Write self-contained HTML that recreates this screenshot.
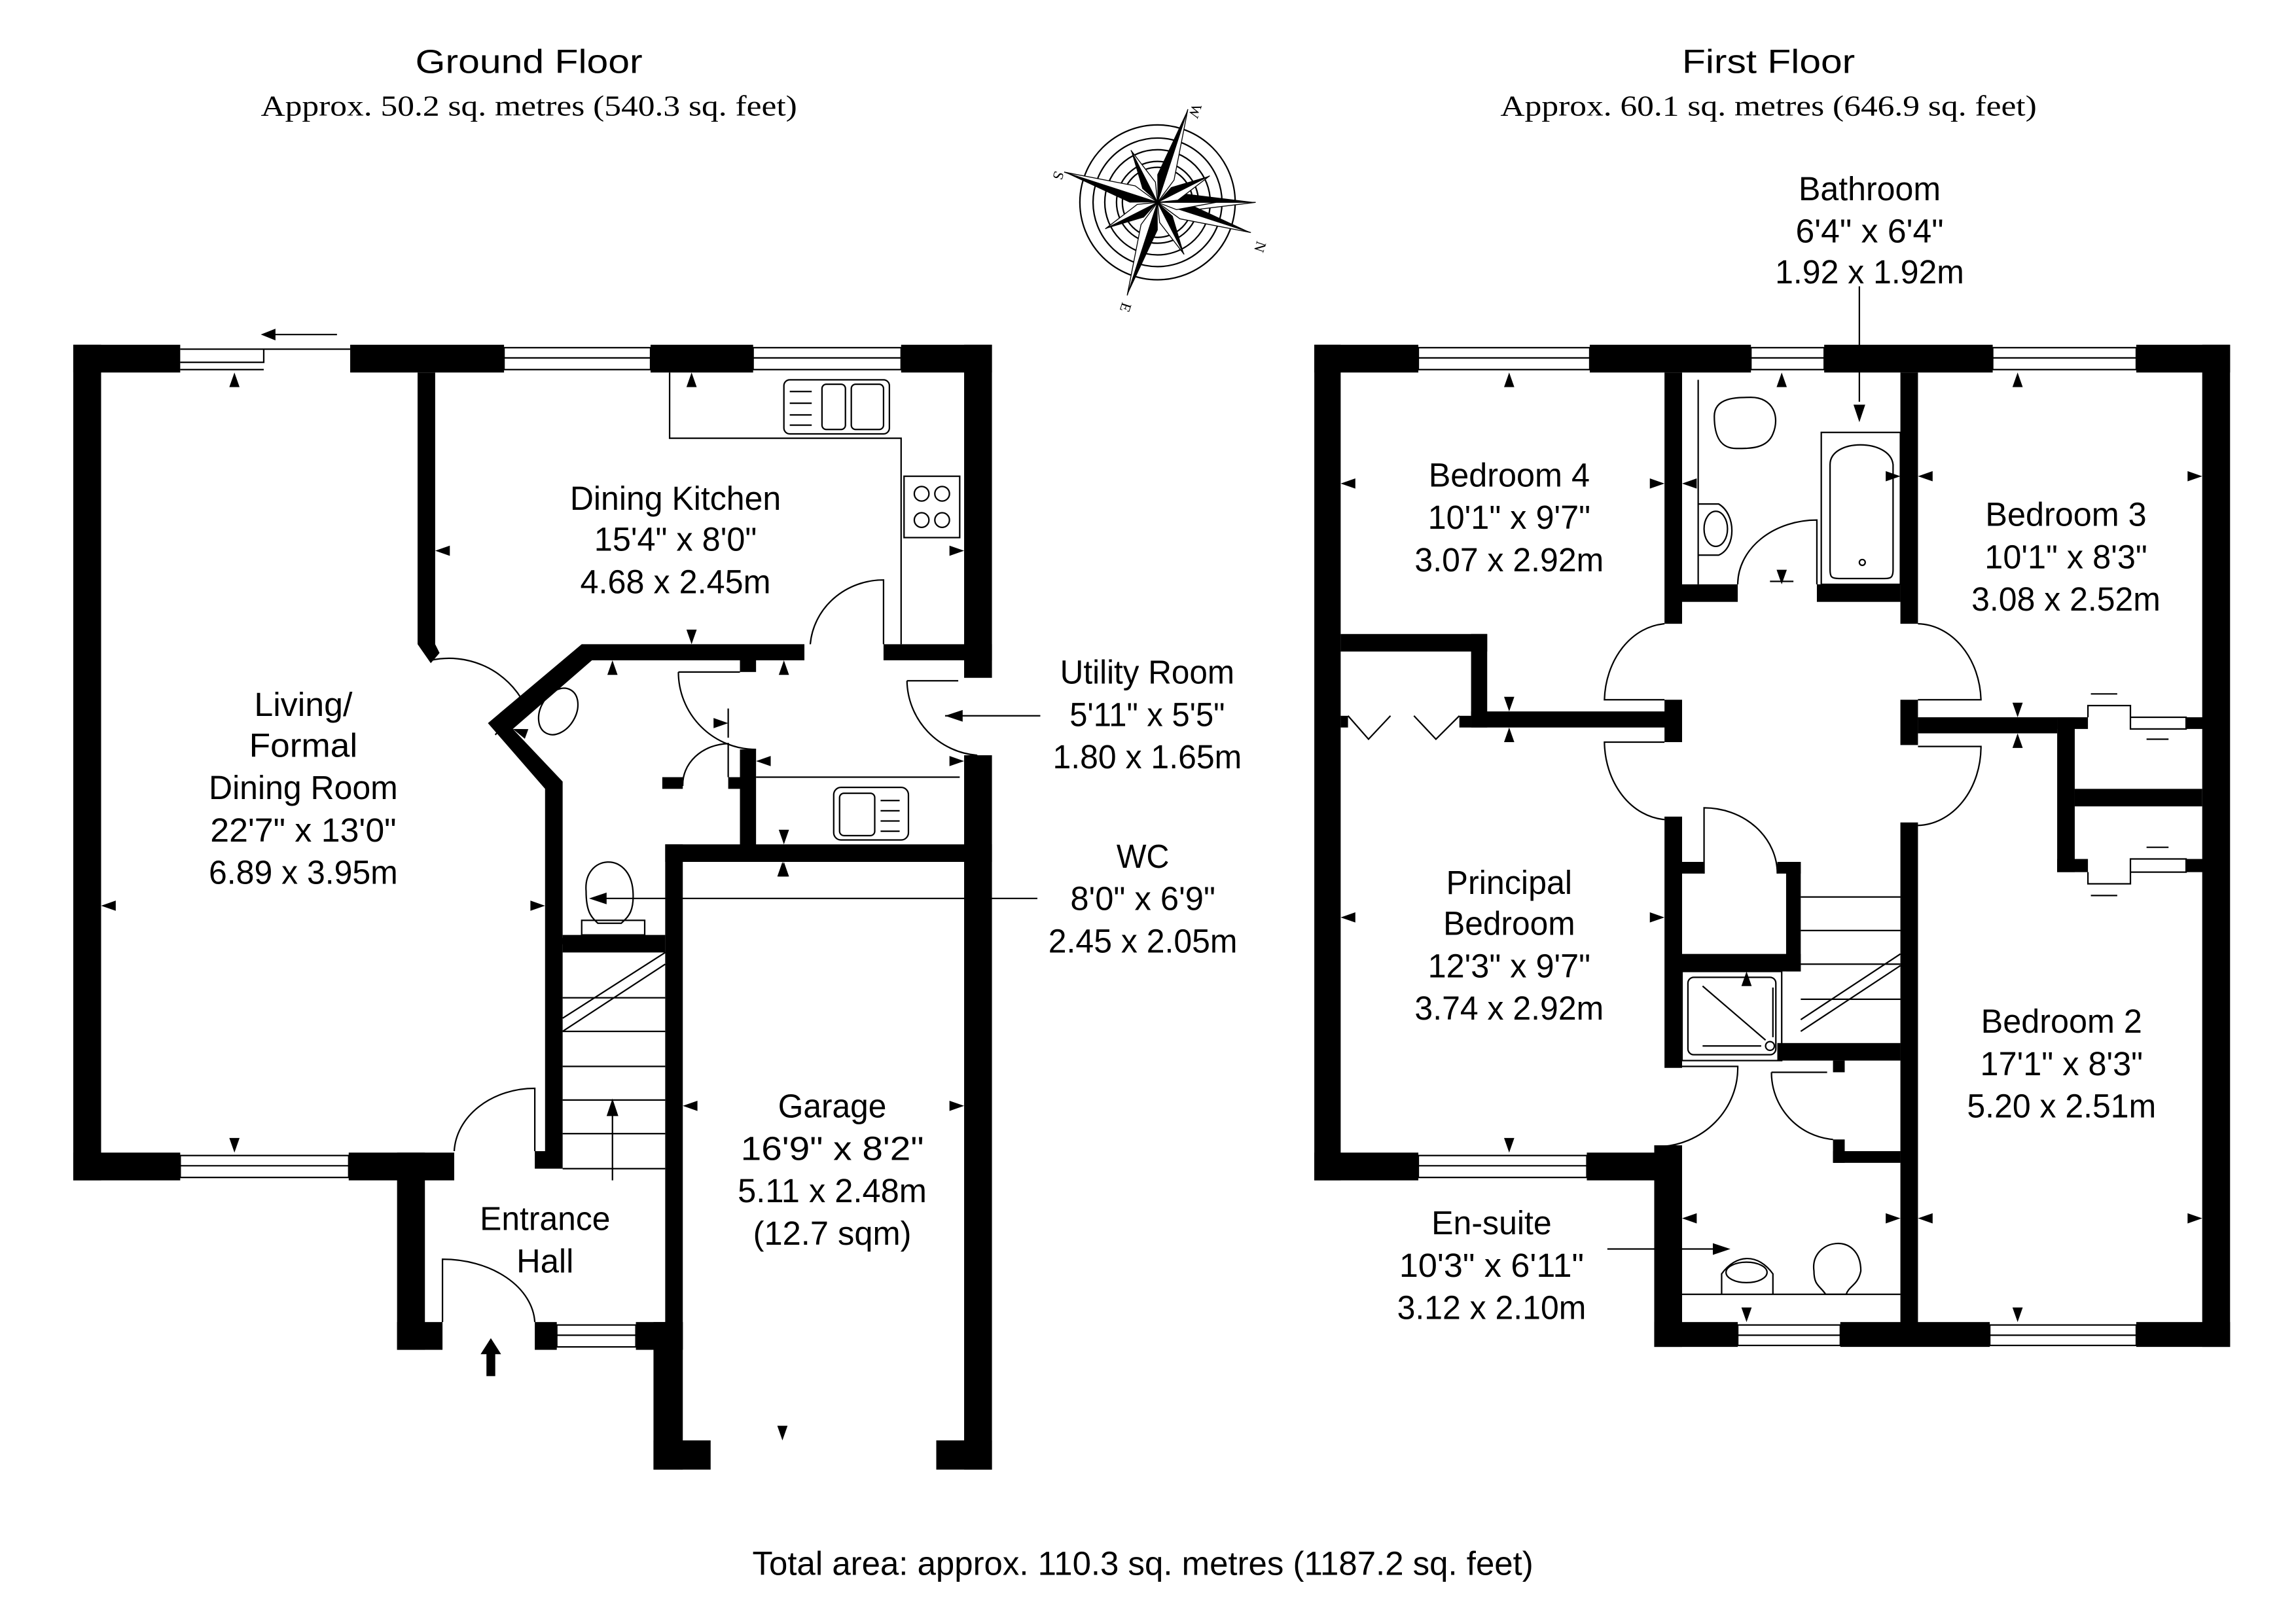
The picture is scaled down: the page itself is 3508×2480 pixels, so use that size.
<!DOCTYPE html>
<html><head><meta charset="utf-8"><style>
html,body{margin:0;padding:0;background:#fff}
svg{display:block}
.t{font-family:"Liberation Sans",sans-serif;font-size:23px;text-anchor:middle;fill:#000}
.s{font-family:"Liberation Serif",serif;font-size:20px;text-anchor:middle;fill:#000}
.l{fill:none;stroke:#000;stroke-width:1}
</style></head><body>
<svg width="3508" height="2480" viewBox="0 0 1567 1111" preserveAspectRatio="none" xmlns="http://www.w3.org/2000/svg">
<defs><polygon id="a" points="-3.5,10 3.5,10 0,0" fill="#000"/></defs>
<rect width="1600" height="1120" fill="#fff"/>

<text class="t" x="361" y="50" font-size="26" textLength="155" lengthAdjust="spacingAndGlyphs">Ground Floor</text>
<text class="s" x="361" y="79" textLength="366" lengthAdjust="spacingAndGlyphs">Approx. 50.2 sq. metres (540.3 sq. feet)</text>
<text class="t" x="1207" y="50" font-size="26" textLength="118" lengthAdjust="spacingAndGlyphs">First Floor</text>
<text class="s" x="1207" y="79" textLength="366" lengthAdjust="spacingAndGlyphs">Approx. 60.1 sq. metres (646.9 sq. feet)</text>
<text class="t" x="780" y="1078" textLength="533" lengthAdjust="spacingAndGlyphs">Total area: approx. 110.3 sq. metres (1187.2 sq. feet)</text>

<g transform="translate(790,138.5)">
<circle r="53" class="l" stroke-width="3"/>
<circle r="44" class="l" stroke-width="0.7"/>
<circle r="36" class="l" stroke-width="2.5"/>
<circle r="28" class="l" stroke-width="2.5"/>
<circle r="24" class="l" stroke-width="0.7"/>
<g id="mr"><polygon points="0,0 67,0 18,-6" fill="#000"/><polygon points="0,0 67,0 18,6" fill="#fff" stroke="#000" stroke-width="0.6"/></g>
<use href="#mr" transform="rotate(18)"/><use href="#mr" transform="rotate(108)"/><use href="#mr" transform="rotate(198)"/><use href="#mr" transform="rotate(288)"/>
<g id="nr"><polygon points="0,0 40,0 13,-5" fill="#000"/><polygon points="0,0 40,0 13,5" fill="#fff" stroke="#000" stroke-width="0.6"/></g>
<use href="#nr" transform="rotate(-27)"/><use href="#nr" transform="rotate(63)"/><use href="#nr" transform="rotate(153)"/><use href="#nr" transform="rotate(243)"/>
<text x="68" y="26" font-family="Liberation Serif" font-size="10" transform="rotate(108 68 26)">N</text>
<text x="-70" y="-22" font-family="Liberation Serif" font-size="10" transform="rotate(108 -70 -22)">S</text>
<text x="24" y="-68" font-family="Liberation Serif" font-size="10" transform="rotate(108 24 -68)">W</text>
<text x="-24" y="68" font-family="Liberation Serif" font-size="10" transform="rotate(108 -24 68)">E</text>
</g>

<g fill="#000">
<rect x="50" y="236" width="73" height="19"/>
<rect x="239" y="236" width="105" height="19"/>
<rect x="444" y="236" width="70" height="19"/>
<rect x="615" y="236" width="62" height="19"/>
<rect x="50" y="236" width="19" height="572"/>
<rect x="658" y="236" width="19" height="228"/>
<rect x="658" y="517" width="19" height="489"/>
<rect x="50" y="789" width="73" height="19"/>
<rect x="238" y="789" width="72" height="19"/>
<rect x="271" y="789" width="19" height="135"/>
<rect x="271" y="905" width="31" height="19"/>
<rect x="365" y="905" width="15" height="19"/>
<rect x="434" y="905" width="32" height="19"/>
<rect x="446" y="905" width="20" height="101"/>
<rect x="446" y="986" width="39" height="20"/>
<rect x="639" y="986" width="38" height="20"/>
<rect x="454" y="578" width="12" height="346"/>
<rect x="454" y="578" width="223" height="12"/>
<polygon points="285,255 297,255 297,441 300,447 294,454 285,441"/>
<polygon points="397,441 549,441 549,452 404,452 350,499 384,535 384,800 365,800 365,788 372,788 372,540 333,495"/>
<rect x="603" y="441" width="74" height="11"/>
<rect x="384" y="640" width="70" height="12"/>
<rect x="505" y="452" width="11" height="8"/>
<rect x="505" y="513" width="11" height="66"/>
<rect x="497" y="532" width="10" height="8"/>
<rect x="452" y="532" width="14" height="8"/>
</g>
<g class="l">
<path d="M123,239 H180 V248 H123 M180,239 H239 M180,248 V239"/>
<path d="M123,253 H180"/>
<rect x="344" y="238" width="100" height="15"/><path d="M344,245 H444"/>
<rect x="514" y="238" width="101" height="15"/><path d="M514,245 H615"/>
<rect x="123" y="791" width="115" height="15"/><path d="M123,798 H238"/>
<rect x="380" y="907" width="54" height="15"/><path d="M380,914 H434"/>
<path d="M186,229 H230"/>
</g>
<polygon points="178,229 188,225 188,233" fill="#000"/>
<g class="l">
<polyline points="457,255 457,300 615,300 615,441"/>
<rect x="535" y="260" width="72" height="37" rx="4"/>
<rect x="561" y="263" width="16" height="31" rx="3"/><rect x="581" y="263" width="22" height="31" rx="3"/>
<path d="M539,268h15M539,276h15M539,284h15M539,291h15"/>
<rect x="617" y="326" width="38" height="42"/>
<circle cx="629" cy="338" r="5"/><circle cx="643" cy="338" r="5"/><circle cx="629" cy="356" r="5"/><circle cx="643" cy="356" r="5"/>
<rect x="569" y="539" width="51" height="36" rx="5"/><rect x="573" y="543" width="24" height="29" rx="3"/>
<path d="M601,548h13M601,555h13M601,562h13M601,569h13"/>
<polyline points="516,532 655,532"/>
<ellipse cx="381" cy="487" rx="12" ry="17" transform="rotate(30 381 487)"/>
<path d="M400,610 C398,585 430,582 432,610 C433,625 428,628 424,632 H408 C404,628 400,625 400,610Z"/>
<rect x="397" y="630" width="43" height="10"/>
<path d="M384,683 H454 M384,706 H454 M384,730 H454 M384,753 H454 M384,776 H454 M384,800 H454"/>
<path d="M384,697 L454,652 M384,706 L454,660"/>
<path d="M418,808 V760"/>
<path d="M294,452 A58,58 0 0 1 358,482 L338,503"/>
<path d="M603,441 V397 A50,48 0 0 0 553,441"/>
<path d="M619,466 H654 M619,466 A52,52 0 0 0 667,517"/>
<path d="M463,460 H505 M463,460 A53,53 0 0 0 516,513"/>
<path d="M497,532 V509 A32,28 0 0 0 466,538"/>
<path d="M365,788 V745 A55,45 0 0 0 310,788"/>
<path d="M302,905 V862 A63,45 0 0 1 365,905"/>
<path d="M413,615 H708 M645,490 H710"/>
<path d="M497,485 V505"/>
</g>
<polygon points="328,927 335,916 342,927 338,927 338,942 332,942 332,927" fill="#000"/>
<polygon points="418,752 414,764 422,764" fill="#000"/>
<polygon points="402,615 414,611 414,619" fill="#000"/>
<polygon points="645,490 657,486 657,494" fill="#000"/>
<use href="#a" transform="translate(160,255)"/>
<use href="#a" transform="translate(160,789) rotate(180)"/>
<use href="#a" transform="translate(69,620) rotate(-90)"/>
<use href="#a" transform="translate(372,620) rotate(90)"/>
<use href="#a" transform="translate(297,377) rotate(-90)"/>
<use href="#a" transform="translate(658,377) rotate(90)"/>
<use href="#a" transform="translate(472,255)"/>
<use href="#a" transform="translate(472,441) rotate(180)"/>
<use href="#a" transform="translate(418,452)"/>
<use href="#a" transform="translate(535,452)"/>
<use href="#a" transform="translate(350,499) rotate(-70)"/>
<use href="#a" transform="translate(497,495) rotate(90)"/>
<use href="#a" transform="translate(516,521) rotate(-90)"/>
<use href="#a" transform="translate(658,521) rotate(90)"/>
<use href="#a" transform="translate(535,578) rotate(180)"/>
<use href="#a" transform="translate(535,590)"/>
<use href="#a" transform="translate(386,652) rotate(180)"/>
<use href="#a" transform="translate(466,757) rotate(-90)"/>
<use href="#a" transform="translate(658,757) rotate(90)"/>
<use href="#a" transform="translate(534,986) rotate(180)"/>
<use href="#a" transform="translate(534,590)"/>
<g class="t">
<text x="461" y="349" textLength="144" lengthAdjust="spacingAndGlyphs">Dining Kitchen</text>
<text x="461" y="377" textLength="111" lengthAdjust="spacingAndGlyphs">15'4" x 8'0"</text>
<text x="461" y="406" textLength="130" lengthAdjust="spacingAndGlyphs">4.68 x 2.45m</text>
<text x="207" y="490" textLength="67" lengthAdjust="spacingAndGlyphs">Living/</text>
<text x="207" y="518" textLength="74" lengthAdjust="spacingAndGlyphs">Formal</text>
<text x="207" y="547" textLength="129" lengthAdjust="spacingAndGlyphs">Dining Room</text>
<text x="207" y="576" textLength="127" lengthAdjust="spacingAndGlyphs">22'7" x 13'0"</text>
<text x="207" y="605" textLength="129" lengthAdjust="spacingAndGlyphs">6.89 x 3.95m</text>
<text x="783" y="468" textLength="119" lengthAdjust="spacingAndGlyphs">Utility Room</text>
<text x="783" y="497" textLength="106" lengthAdjust="spacingAndGlyphs">5'11" x 5'5"</text>
<text x="783" y="526" textLength="129" lengthAdjust="spacingAndGlyphs">1.80 x 1.65m</text>
<text x="780" y="594" textLength="36" lengthAdjust="spacingAndGlyphs">WC</text>
<text x="780" y="623" textLength="99" lengthAdjust="spacingAndGlyphs">8'0" x 6'9"</text>
<text x="780" y="652" textLength="129" lengthAdjust="spacingAndGlyphs">2.45 x 2.05m</text>
<text x="568" y="765" textLength="74" lengthAdjust="spacingAndGlyphs">Garage</text>
<text x="568" y="794" textLength="125" lengthAdjust="spacingAndGlyphs">16'9" x 8'2"</text>
<text x="568" y="823" textLength="129" lengthAdjust="spacingAndGlyphs">5.11 x 2.48m</text>
<text x="568" y="852" textLength="108" lengthAdjust="spacingAndGlyphs">(12.7 sqm)</text>
<text x="372" y="842" textLength="89" lengthAdjust="spacingAndGlyphs">Entrance</text>
<text x="372" y="871" textLength="39" lengthAdjust="spacingAndGlyphs">Hall</text>
</g>

<g fill="#000">
<rect x="897" y="236" width="71" height="19"/>
<rect x="1085" y="236" width="110" height="19"/>
<rect x="1245" y="236" width="115" height="19"/>
<rect x="1458" y="236" width="64" height="19"/>
<rect x="897" y="236" width="18" height="572"/>
<rect x="1503" y="236" width="19" height="686"/>
<rect x="897" y="789" width="71" height="19"/>
<rect x="1083" y="789" width="49" height="19"/>
<rect x="1129" y="784" width="19" height="138"/>
<rect x="1129" y="905" width="57" height="17"/>
<rect x="1256" y="905" width="102" height="17"/>
<rect x="1458" y="905" width="64" height="17"/>
<rect x="1136" y="255" width="12" height="172"/>
<rect x="1136" y="479" width="12" height="29"/>
<rect x="1136" y="559" width="12" height="172"/>
<rect x="1297" y="255" width="12" height="172"/>
<rect x="1297" y="479" width="12" height="31"/>
<rect x="1297" y="563" width="12" height="350"/>
<rect x="1148" y="400" width="38" height="12"/>
<rect x="1240" y="400" width="57" height="12"/>
<rect x="915" y="434" width="100" height="12"/>
<rect x="1004" y="434" width="11" height="64"/>
<rect x="1004" y="487" width="143" height="11"/>
<rect x="915" y="490" width="5" height="8"/>
<rect x="996" y="490" width="8" height="8"/>
<rect x="1309" y="491" width="95" height="11"/>
<rect x="1404" y="491" width="21" height="8"/>
<rect x="1404" y="491" width="12" height="106"/>
<rect x="1416" y="540" width="87" height="12"/>
<rect x="1404" y="588" width="21" height="9"/>
<rect x="1492" y="491" width="12" height="8"/>
<rect x="1492" y="588" width="12" height="9"/>
<rect x="1148" y="590" width="15" height="8"/>
<rect x="1213" y="590" width="16" height="8"/>
<rect x="1219" y="590" width="10" height="75"/>
<rect x="1148" y="653" width="81" height="12"/>
<rect x="1213" y="714" width="84" height="12"/>
<rect x="1251" y="726" width="8" height="8"/>
<rect x="1251" y="780" width="8" height="16"/>
<rect x="1251" y="788" width="46" height="8"/>
</g>
<g class="l">
<rect x="968" y="238" width="117" height="15"/><path d="M968,245 H1085"/>
<rect x="1195" y="238" width="50" height="15"/><path d="M1195,245 H1245"/>
<rect x="1360" y="238" width="98" height="15"/><path d="M1360,245 H1458"/>
<rect x="968" y="791" width="115" height="15"/><path d="M968,798 H1083"/>
<rect x="1186" y="907" width="70" height="14"/><path d="M1186,914 H1256"/>
<rect x="1358" y="907" width="100" height="14"/><path d="M1358,914 H1458"/>
<path d="M920,490 L934,506 L949,490 M965,490 L980,506 L996,490"/>
<path d="M1425,491 V483 H1454 V491 H1492 V499 H1454 V491"/>
<path d="M1425,597 V605 H1454 V597 H1492 V588 H1454 V597"/>
<path d="M1427,475 H1445 M1465,506 H1480 M1465,580 H1480 M1427,613 H1445"/>
<path d="M1159,260 V400"/>
<path d="M1170,285 C1170,272 1185,272 1195,272 C1210,272 1215,285 1210,297 C1206,307 1195,307 1185,307 C1175,307 1170,300 1170,285Z"/>
<path d="M1159,345 H1173 C1185,352 1185,375 1173,380 H1159"/>
<ellipse cx="1171" cy="362" rx="8" ry="12"/>
<rect x="1243" y="296" width="54" height="104"/>
<path d="M1249,318 C1249,300 1290,300 1292,318 V390 C1292,396 1290,396 1285,396 H1255 C1250,396 1249,395 1249,390Z"/>
<circle cx="1271" cy="385" r="2"/>
<path d="M1240,400 V356 A54,44 0 0 0 1186,400"/>
<path d="M1208,398 H1224"/>
<path d="M1269,196 V275"/>
<path d="M1136,427 A44,54 0 0 0 1095,479 H1136"/>
<path d="M1136,561 A44,54 0 0 1 1095,508 H1136"/>
<path d="M1309,427 A44,54 0 0 1 1352,479 H1309"/>
<path d="M1309,565 A44,54 0 0 0 1352,511 H1309"/>
<path d="M1163,598 V553 A50,45 0 0 1 1213,598"/>
<path d="M1229,614 H1297 M1229,637 H1297 M1229,660 H1297 M1229,684 H1297"/>
<path d="M1229,698 L1297,653 M1229,706 L1297,661"/>
<rect x="1148" y="665" width="68" height="61"/>
<rect x="1152" y="669" width="60" height="53" rx="4"/>
<path d="M1162,675 L1205,712 M1162,716 H1202 M1210,676 V710"/>
<circle cx="1208" cy="716" r="3"/>
<path d="M1144,730 H1186 A56,54 0 0 1 1132,785"/>
<path d="M1209,734 H1247 M1209,734 A46,46 0 0 0 1251,780"/>
<path d="M1148,886 H1297"/>
<path d="M1175,886 V872 C1185,858 1200,858 1210,872 V886"/><ellipse cx="1192" cy="871" rx="14" ry="7"/>
<path d="M1238,870 C1235,848 1270,842 1270,870 C1268,880 1262,880 1260,886 H1246 C1242,880 1238,880 1238,870Z"/>
<path d="M1097,855 H1170"/>
</g>
<polygon points="1181,855 1169,851 1169,859" fill="#000"/>
<polygon points="1269,289 1265,277 1273,277" fill="#000"/>
<use href="#a" transform="translate(1030,255)"/>
<use href="#a" transform="translate(1030,789) rotate(180)"/>
<use href="#a" transform="translate(915,331) rotate(-90)"/>
<use href="#a" transform="translate(1136,331) rotate(90)"/>
<use href="#a" transform="translate(1148,331) rotate(-90)"/>
<use href="#a" transform="translate(1297,326) rotate(90)"/>
<use href="#a" transform="translate(1309,326) rotate(-90)"/>
<use href="#a" transform="translate(1503,326) rotate(90)"/>
<use href="#a" transform="translate(1216,255)"/>
<use href="#a" transform="translate(1216,400) rotate(180)"/>
<use href="#a" transform="translate(1377,255)"/>
<use href="#a" transform="translate(1377,491) rotate(180)"/>
<use href="#a" transform="translate(1377,502)"/>
<use href="#a" transform="translate(1030,487) rotate(180)"/>
<use href="#a" transform="translate(1030,498)"/>
<use href="#a" transform="translate(915,628) rotate(-90)"/>
<use href="#a" transform="translate(1136,628) rotate(90)"/>
<use href="#a" transform="translate(1192,665)"/>
<use href="#a" transform="translate(1148,834) rotate(-90)"/>
<use href="#a" transform="translate(1297,834) rotate(90)"/>
<use href="#a" transform="translate(1309,834) rotate(-90)"/>
<use href="#a" transform="translate(1503,834) rotate(90)"/>
<use href="#a" transform="translate(1192,905) rotate(180)"/>
<use href="#a" transform="translate(1377,905) rotate(180)"/>
<g class="t">
<text x="1276" y="137" textLength="97" lengthAdjust="spacingAndGlyphs">Bathroom</text>
<text x="1276" y="166" textLength="101" lengthAdjust="spacingAndGlyphs">6'4" x 6'4"</text>
<text x="1276" y="194" textLength="129" lengthAdjust="spacingAndGlyphs">1.92 x 1.92m</text>
<text x="1030" y="333" textLength="110" lengthAdjust="spacingAndGlyphs">Bedroom 4</text>
<text x="1030" y="362" textLength="111" lengthAdjust="spacingAndGlyphs">10'1" x 9'7"</text>
<text x="1030" y="391" textLength="129" lengthAdjust="spacingAndGlyphs">3.07 x 2.92m</text>
<text x="1410" y="360" textLength="110" lengthAdjust="spacingAndGlyphs">Bedroom 3</text>
<text x="1410" y="389" textLength="111" lengthAdjust="spacingAndGlyphs">10'1" x 8'3"</text>
<text x="1410" y="418" textLength="129" lengthAdjust="spacingAndGlyphs">3.08 x 2.52m</text>
<text x="1030" y="612" textLength="86" lengthAdjust="spacingAndGlyphs">Principal</text>
<text x="1030" y="640" textLength="90" lengthAdjust="spacingAndGlyphs">Bedroom</text>
<text x="1030" y="669" textLength="111" lengthAdjust="spacingAndGlyphs">12'3" x 9'7"</text>
<text x="1030" y="698" textLength="129" lengthAdjust="spacingAndGlyphs">3.74 x 2.92m</text>
<text x="1407" y="707" textLength="110" lengthAdjust="spacingAndGlyphs">Bedroom 2</text>
<text x="1407" y="736" textLength="111" lengthAdjust="spacingAndGlyphs">17'1" x 8'3"</text>
<text x="1407" y="765" textLength="129" lengthAdjust="spacingAndGlyphs">5.20 x 2.51m</text>
<text x="1018" y="845" textLength="82" lengthAdjust="spacingAndGlyphs">En-suite</text>
<text x="1018" y="874" textLength="126" lengthAdjust="spacingAndGlyphs">10'3" x 6'11"</text>
<text x="1018" y="903" textLength="129" lengthAdjust="spacingAndGlyphs">3.12 x 2.10m</text>
</g>
</svg>
</body></html>
